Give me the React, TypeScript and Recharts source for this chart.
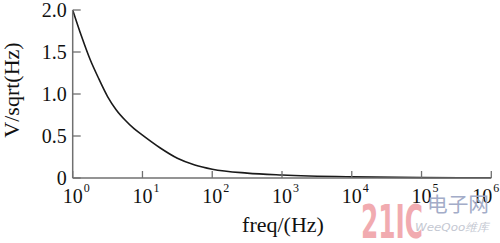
import React from "react";
import { LineChart, Line, XAxis, YAxis } from "recharts";

const freqs = [1, 1.334, 1.778, 2.371, 3.162, 4.217, 5.623, 7.499, 10, 17.78, 31.62, 56.23, 100, 316.2, 1000, 10000, 100000, 1000000];
const volts = [2.0, 1.69, 1.41, 1.18, 0.97, 0.81, 0.69, 0.59, 0.51, 0.36, 0.235, 0.155, 0.105, 0.058, 0.035, 0.013, 0.005, 0.003];
const xTicks = [1, 10, 100, 1000, 10000, 100000, 1000000];
const xExponents = ["0", "1", "2", "3", "4", "5", "6"];
const yTicks = [0, 0.5, 1.0, 1.5, 2.0];
const yTickLabels = ["0", "0.5", "1.0", "1.5", "2.0"];

const data = freqs.map((f, i) => ({ f, v: volts[i] }));

const FONT = "'Liberation Serif', 'Times New Roman', serif";
const AXIS = "#707070";
const TEXT = "#111";

const XTick = (props: any) => {
  const { x, y, payload } = props;
  const idx = xTicks.indexOf(payload.value);
  const last = idx === xTicks.length - 1;
  const lx = last ? x - 9 : x;
  return (
    <g>
      <line x1={x} y1={y} x2={x} y2={y - 7} stroke={AXIS} strokeWidth={1.3} />
      <text x={lx} y={y + 25} textAnchor="middle" fontFamily={FONT} fontSize={20} fill={TEXT}>10</text>
      <text x={lx + 11} y={y + 14} textAnchor="start" fontFamily={FONT} fontSize={12} fill={TEXT}>{xExponents[idx]}</text>
    </g>
  );
};

const YTick = (props: any) => {
  const { x, y, payload } = props;
  const idx = yTicks.indexOf(payload.value);
  return (
    <g>
      <line x1={x} y1={y} x2={x + 8} y2={y} stroke={AXIS} strokeWidth={1.3} />
      <text x={x - 6} y={y + 7} textAnchor="end" fontFamily={FONT} fontSize={20} fill={TEXT}>{yTickLabels[idx]}</text>
    </g>
  );
};

export default function App() {
  return (
    <div style={{ position: "absolute", left: 0, top: 0, width: 500, height: 243, background: "#fff" }}>
      <LineChart width={500} height={243} data={data} margin={{ top: 10, right: 8.7, bottom: 0, left: 0 }}>
        <XAxis
          dataKey="f"
          type="number"
          scale="log"
          domain={[1, 1000000]}
          ticks={xTicks}
          tick={<XTick />}
          tickSize={0}
          tickMargin={0}
          height={65}
          axisLine={{ stroke: AXIS, strokeWidth: 1.5 }}
          tickLine={false}
          allowDataOverflow
          interval={0}
        />
        <YAxis
          dataKey="v"
          type="number"
          domain={[0, 2]}
          ticks={yTicks}
          tick={<YTick />}
          tickSize={0}
          tickMargin={0}
          width={72.7}
          axisLine={{ stroke: AXIS, strokeWidth: 1.5 }}
          tickLine={false}
          interval={0}
        />
        <Line type="monotone" dataKey="v" stroke="#1a1a1a" strokeWidth={1.6} dot={false} isAnimationActive={false} />
      </LineChart>
      <svg width={500} height={243} style={{ position: "absolute", left: 0, top: 0, pointerEvents: "none" }}>
        <text x={283} y={232} textAnchor="middle" fontFamily={FONT} fontSize={22} fill={TEXT}>freq/(Hz)</text>
        <text transform="translate(19,90) rotate(-90)" textAnchor="middle" fontFamily={FONT} fontSize={22} fill={TEXT}>V/sqrt(Hz)</text>
        <text x={361} y={238} fontFamily="'DejaVu Sans', sans-serif" fontWeight="bold" fontSize={46} fill="#f0a2a8" opacity={0.9} textLength={62} lengthAdjust="spacingAndGlyphs">21IC</text>
        <text x={427} y={212} fontFamily="'Noto Sans CJK SC', sans-serif" fontSize={20} fill="#a3acc8" textLength={62} lengthAdjust="spacingAndGlyphs">电子网</text>
        <text x={415} y={231} fontFamily="'DejaVu Sans', sans-serif" fontStyle="italic" fontSize={11} fill="#c4c8d2" textLength={74} lengthAdjust="spacingAndGlyphs">WeeQoo维库</text>
      </svg>
    </div>
  );
}
